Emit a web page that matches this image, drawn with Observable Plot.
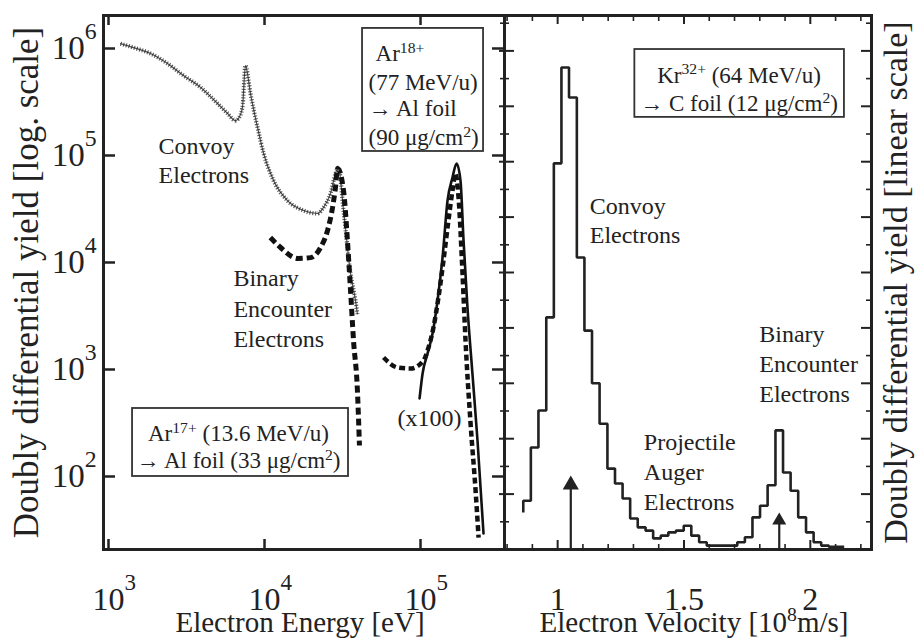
<!DOCTYPE html>
<html><head><meta charset="utf-8">
<script src="https://cdn.jsdelivr.net/npm/d3@7"></script>
<script src="https://cdn.jsdelivr.net/npm/@observablehq/plot@0.6"></script>
<style>
html,body{margin:0;padding:0;background:#fff;}
#chart{position:relative;width:917px;height:639px;overflow:hidden;background:#fff;}
#chart svg{position:absolute;top:0;max-width:none;}
</style></head><body><div id="chart"></div>
<script>
// ---------- Left panel (log-log): electron energy [eV] vs yield ----------
// Ar17+ (13.6 MeV/u) -> Al foil, experiment (thin noisy trace)
const ar17ExpE = [1194,1445,1858,2388,3025,3890,5000,5800,6520,6810,7220,7550,8130,9020,9860,11430,14030,17800,21870,23900,26500,28500,29800,32100,35600,38300,39400];
const ar17ExpY = [1.11e6,1.02e6,8.98e5,7.24e5,5.59e5,4.33e5,3.06e5,2.47e5,2.12e5,2.22e5,2.81e5,6.93e5,3.79e5,1.83e5,1.05e5,5.83e4,3.79e4,3.06e4,2.87e4,3.27e4,4.42e4,6.79e4,7.73e4,3.06e4,7.9e3,4.4e3,3.3e3];
// Ar17+ binary-encounter calculation (thick dashed)
const ar17ThE = [10900,12670,16300,19740,22870,25350,27300,28500,29400,32100,34000,35600,37200,39400,40600];
const ar17ThY = [1.71e4,1.38e4,1.09e4,1.11e4,1.38e4,1.99e4,3.27e4,5.02e4,7.57e4,4.71e4,1.61e4,5.47e3,1.87e3,637,195];
// Ar18+ (77 MeV/u) -> Al foil, experiment (x100, solid)
const ar18ExpE = [98600,103100,111000,119400,128600,138400,149000,160300,170200,180400,188700,200000,215100,231900,253400];
const ar18ExpY = [536,918,1413,2170,4415,11100,37900,62200,84200,58300,16100,3790,918,217,29.3];
// Ar18+ calculation (thick dashed)
const ar18ThE = [57950,71300,86300,104500,112500,121100,130300,140300,151000,160300,167500,175300,185900,194300,209300,225400,235600];
const ar18ThY = [1294,1044,1021,1213,1607,2472,4713,10400,24700,47100,67900,40500,7900,1870,313,74,26.9];

const leftXTicks = [1e3, 1e4, 1e5];
const leftXTickLabels = ["10^^{3}", "10^^{4}", "10^^{5}"];
const leftYTicks = [1e2, 1e3, 1e4, 1e5, 1e6];
const leftYTickLabels = ["10^^{2}", "10^^{3}", "10^^{4}", "10^^{5}", "10^^{6}"];

const leftLabels = [
  {E: 2094, Y: 1.21e5, t: "Convoy"},
  {E: 2094, Y: 6.5e4, t: "Electrons"},
  {E: 6320, Y: 7080, t: "Binary"},
  {E: 6320, Y: 3640, t: "Encounter"},
  {E: 6320, Y: 1905, t: "Electrons"}
];
const leftBoxes = [
  {x1: 42500, x2: 253500, y1: 1.09e5, y2: 1.54e6},
  {x1: 1426, x2: 34550, y1: 100, y2: 432}
];
const ar18BoxLines = [
  {E: 51500, Y: 8.98e5, t: "Ar^{18+}"},
  {E: 46400, Y: 4.81e5, t: "(77 MeV/u)"},
  {E: 46400, Y: 2.75e5, t: "\u2192 Al foil"},
  {E: 46400, Y: 1.47e5, t: "(90 \u03BCg/cm^{2})"}
];
const ar17BoxLines = [
  {E: 6810, Y: 252, t: "Ar^{17+} (13.6 MeV/u)"},
  {E: 6810, Y: 141, t: "\u2192 Al foil (33 \u03BCg/cm^{2})"}
];
const scaleNote = [{E: 114300, Y: 348, t: "(x100)"}];

// ---------- Right panel (linear): electron velocity vs yield ----------
const velEdges = [0.864,0.894,0.924,0.955,0.985,1.015,1.045,1.076,1.106,1.136,1.166,1.197,1.227,1.257,1.287,1.317,1.348,1.378,1.408,1.438,1.468,1.499,1.529,1.560,1.590,1.620,1.650,1.680,1.711,1.741,1.771,1.801,1.831,1.862,1.892,1.922,1.952,1.983,2.013,2.043,2.073,2.104,2.134];
const krCounts = [0.88,1.84,2.51,4.19,6.97,8.70,8.16,5.27,3.95,3.00,2.27,1.46,1.19,0.92,0.56,0.40,0.34,0.20,0.25,0.31,0.34,0.43,0.25,0.13,0.07,0.07,0.07,0.07,0.13,0.22,0.58,0.79,1.16,2.15,1.39,1.06,0.58,0.31,0.13,0.07,0.05,0.05];
const krStart = 0.67;

const arrowV = [1.052, 1.877];
const arrowHead = [1.168, 0.523];
const arrowR = [6, 5.2];

const rightXMajor = [1, 1.5, 2];
const rightXLabels = ["1", "1.5", "2"];
const rightXMinor = [0.8,0.9,1.1,1.2,1.3,1.4,1.6,1.7,1.8,1.9,2.1,2.2];
const rightYMajor = [0,1,2,3,4,5,6,7,8,9];
const rightYMinor = [0.5,1.5,2.5,3.5,4.5,5.5,6.5,7.5,8.5,9.5];

const rightLabels = [
  {v: 1.127, c: 6.19, t: "Convoy"},
  {v: 1.127, c: 5.67, t: "Electrons"},
  {v: 1.341, c: 1.93, t: "Projectile"},
  {v: 1.341, c: 1.39, t: "Auger"},
  {v: 1.341, c: 0.85, t: "Electrons"},
  {v: 1.798, c: 3.88, t: "Binary"},
  {v: 1.798, c: 3.34, t: "Encounter"},
  {v: 1.798, c: 2.80, t: "Electrons"}
];
const krBox = [{x1: 1.3056, x2: 2.135, y1: 7.80, y2: 9.025}];
const krBoxLines = [
  {v: 1.718, c: 8.56, t: "Kr^{32+} (64 MeV/u)"},
  {v: 1.718, c: 8.05, t: "\u2192 C foil (12 \u03BCg/cm^{2})"}
];

// ---------- rendering ----------
const FONT = "'Liberation Serif','Times New Roman',Times,serif";
const INK = "#222";
const H = 639, TOP = 15, BOTTOM = 90;
const FH = H - TOP - BOTTOM; // frame height 534

const zip = (xs, ys) => xs.map((x, i) => ({x, y: ys[i]}));
const dashed = {stroke: "#111", strokeLinecap: "butt", strokeLinejoin: "miter", curve: "monotone-x"};

const LW = 507, LML = 103, LMR = 3; // left frame: 103..504
const LFW = LW - LML - LMR;
const left = Plot.plot({
  width: LW, height: H,
  marginLeft: LML, marginRight: LMR, marginTop: TOP, marginBottom: BOTTOM,
  style: {fontFamily: FONT, background: "transparent", color: INK, overflow: "visible"},
  x: {type: "log", domain: [928.8, 345400], axis: null},
  y: {type: "log", domain: [20.78, 2.034e6], axis: null},
  marks: [
    Plot.line(zip(ar17ExpE, ar17ExpY), {x: "x", y: "y", stroke: "#555", strokeWidth: 1.2, curve: "monotone-x"}),
    Plot.line(zip(ar17ExpE, ar17ExpY), {x: "x", y: "y", stroke: "#222", strokeWidth: 4.2, strokeDasharray: "1.1 1.7", strokeOpacity: 0.75, strokeLinecap: "butt", curve: "monotone-x"}),
    Plot.line(zip(ar17ThE, ar17ThY), {x: "x", y: "y", ...dashed, strokeWidth: 5, strokeDasharray: "7 4"}),
    Plot.line(zip(ar18ExpE, ar18ExpY), {x: "x", y: "y", stroke: "#111", strokeWidth: 2.6, curve: "monotone-x"}),
    Plot.line(zip(ar18ThE, ar18ThY), {x: "x", y: "y", ...dashed, strokeWidth: 4.5, strokeDasharray: "6 3.5"}),
    Plot.rect(leftBoxes, {x1: "x1", x2: "x2", y1: "y1", y2: "y2", fill: "none", stroke: "#333", strokeWidth: 1.8}),
    Plot.text(leftLabels, {x: "E", y: "Y", text: "t", textAnchor: "start", fontSize: 24, fill: INK}),
    Plot.text(ar18BoxLines, {x: "E", y: "Y", text: "t", textAnchor: "start", fontSize: 23, fill: INK}),
    Plot.text(ar17BoxLines, {x: "E", y: "Y", text: "t", textAnchor: "middle", fontSize: 23, fill: INK}),
    Plot.text(scaleNote, {x: "E", y: "Y", text: "t", textAnchor: "middle", fontSize: 24, fill: INK}),
    // ticks (inward)
    Plot.tickX(leftXTicks, {x: d => d, insetTop: FH - 10, stroke: INK, strokeWidth: 2.5}),
    Plot.tickX(leftXTicks, {x: d => d, insetBottom: FH - 10, stroke: INK, strokeWidth: 2.5}),
    Plot.tickY(leftYTicks, {y: d => d, insetRight: LFW - 12, stroke: INK, strokeWidth: 2.5}),
    Plot.tickY(leftYTicks, {y: d => d, insetLeft: LFW - 12, stroke: INK, strokeWidth: 2.5}),
    Plot.frame({stroke: INK, strokeWidth: 3}),
    // tick labels
    Plot.text(leftXTicks, {x: d => d, frameAnchor: "bottom", lineAnchor: "middle", dy: 50, dx: -16, textAnchor: "start", text: (d, i) => leftXTickLabels[i], fontSize: 32, fill: INK}),
    Plot.text(leftYTicks, {y: d => d, frameAnchor: "left", lineAnchor: "middle", dx: -7, textAnchor: "end", text: (d, i) => leftYTickLabels[i], fontSize: 33, fill: INK}),
    // titles
    Plot.text(["Electron Energy [eV]"], {frameAnchor: "bottom", lineAnchor: "middle", textAnchor: "middle", dy: 73, dx: -4, fontSize: 29, fill: INK}),
    Plot.text(["Doubly differential yield [log. scale]"], {frameAnchor: "left", lineAnchor: "middle", textAnchor: "middle", dx: -77, rotate: -90, fontSize: 35, fill: INK})
  ]
});
left.style.left = "0px";

const RX = 501, RW = 917 - RX, RML = 3, RMR = 46; // right frame: 504..870
const RFW = RW - RML - RMR;
const histPts = [{v: velEdges[0], c: krStart}]
  .concat(krCounts.map((c, i) => ({v: velEdges[i], c})))
  .concat([{v: velEdges[krCounts.length], c: krCounts[krCounts.length - 1]}]);
const arrows = arrowV.map((v, i) => ({v, head: arrowHead[i], r: arrowR[i]}));

const right = Plot.plot({
  width: RW, height: H,
  marginLeft: RML, marginRight: RMR, marginTop: TOP, marginBottom: BOTTOM,
  style: {fontFamily: FONT, background: "transparent", color: INK, overflow: "visible"},
  x: {domain: [0.7897, 2.2421], axis: null},
  y: {domain: [0, 9.639], axis: null},
  marks: [
    Plot.line(histPts, {x: "v", y: "c", curve: "step-after", stroke: INK, strokeWidth: 2.6, strokeLinejoin: "miter", strokeLinecap: "butt"}),
    Plot.ruleX(arrows, {x: "v", y1: 0, y2: "head", stroke: INK, strokeWidth: 2.2}),
    Plot.dot(arrows.slice(0, 1), {x: "v", y: "head", symbol: "triangle", r: arrows[0].r, fill: INK, stroke: "none"}),
    Plot.dot(arrows.slice(1, 2), {x: "v", y: "head", symbol: "triangle", r: arrows[1].r, fill: INK, stroke: "none"}),
    Plot.rect(krBox, {x1: "x1", x2: "x2", y1: "y1", y2: "y2", fill: "none", stroke: "#333", strokeWidth: 1.8}),
    Plot.text(rightLabels, {x: "v", y: "c", text: "t", textAnchor: "start", fontSize: 24, fill: INK}),
    Plot.text(krBoxLines, {x: "v", y: "c", text: "t", textAnchor: "middle", fontSize: 23, fill: INK}),
    // ticks
    Plot.tickX(rightXMajor, {x: d => d, insetTop: FH - 9, stroke: INK, strokeWidth: 2}),
    Plot.tickX(rightXMinor, {x: d => d, insetTop: FH - 5, stroke: INK, strokeWidth: 1.6}),
    Plot.tickX(rightXMajor, {x: d => d, insetBottom: FH - 9, stroke: INK, strokeWidth: 2}),
    Plot.tickX(rightXMinor, {x: d => d, insetBottom: FH - 6, stroke: INK, strokeWidth: 1.6}),
    Plot.tickY(rightYMajor, {y: d => d, insetLeft: -5, insetRight: RFW - 10, stroke: INK, strokeWidth: 2}),
    Plot.tickY(rightYMinor, {y: d => d, insetLeft: -4, insetRight: RFW - 5, stroke: INK, strokeWidth: 1.6}),
    Plot.tickY(rightYMajor, {y: d => d, insetLeft: RFW - 10, stroke: INK, strokeWidth: 2}),
    Plot.tickY(rightYMinor, {y: d => d, insetLeft: RFW - 5, stroke: INK, strokeWidth: 1.6}),
    Plot.frame({stroke: INK, strokeWidth: 3}),
    Plot.text(rightXMajor, {x: d => d, frameAnchor: "bottom", lineAnchor: "middle", textAnchor: "middle", dy: 50, text: (d, i) => rightXLabels[i], fontSize: 32, fill: INK}),
    Plot.text(["Electron Velocity [10^{8}m/s]"], {frameAnchor: "bottom", lineAnchor: "middle", textAnchor: "middle", dy: 73, dx: 6, fontSize: 29, fill: INK}),
    Plot.text(["Doubly differential yield [linear scale]"], {frameAnchor: "right", lineAnchor: "middle", textAnchor: "middle", dx: 25, rotate: -90, fontSize: 34, fill: INK})
  ]
});
right.style.left = RX + "px";

const chart = document.getElementById("chart");
chart.appendChild(left);
chart.appendChild(right);

// turn ^{..} (normal) and ^^{..} (tick-label style) markers into superscript tspans
function supify(svg) {
  svg.querySelectorAll("text").forEach(t => {
    if (t.querySelector("tspan")) return;
    const s = t.textContent;
    if (!s.includes("^")) return;
    const fs = parseFloat(getComputedStyle(t).fontSize);
    const parts = s.split(/(\^\^?\{[^}]*\})/);
    t.textContent = "";
    let off = 0;
    for (const p of parts) {
      if (!p) continue;
      const ts = document.createElementNS("http://www.w3.org/2000/svg", "tspan");
      const m = p.match(/^(\^\^?)\{([^}]*)\}$/);
      if (m) {
        const high = m[1] === "^^";
        const raise = (high ? 0.62 : 0.36) * fs;
        ts.setAttribute("font-size", (high ? 0.72 : 0.68) * fs);
        ts.setAttribute("dy", -raise - off);
        off = -raise;
        ts.textContent = m[2];
      } else {
        if (off !== 0) { ts.setAttribute("dy", -off); off = 0; }
        ts.textContent = p;
      }
      t.appendChild(ts);
    }
  });
}
supify(left);
supify(right);
</script>
</body></html>
